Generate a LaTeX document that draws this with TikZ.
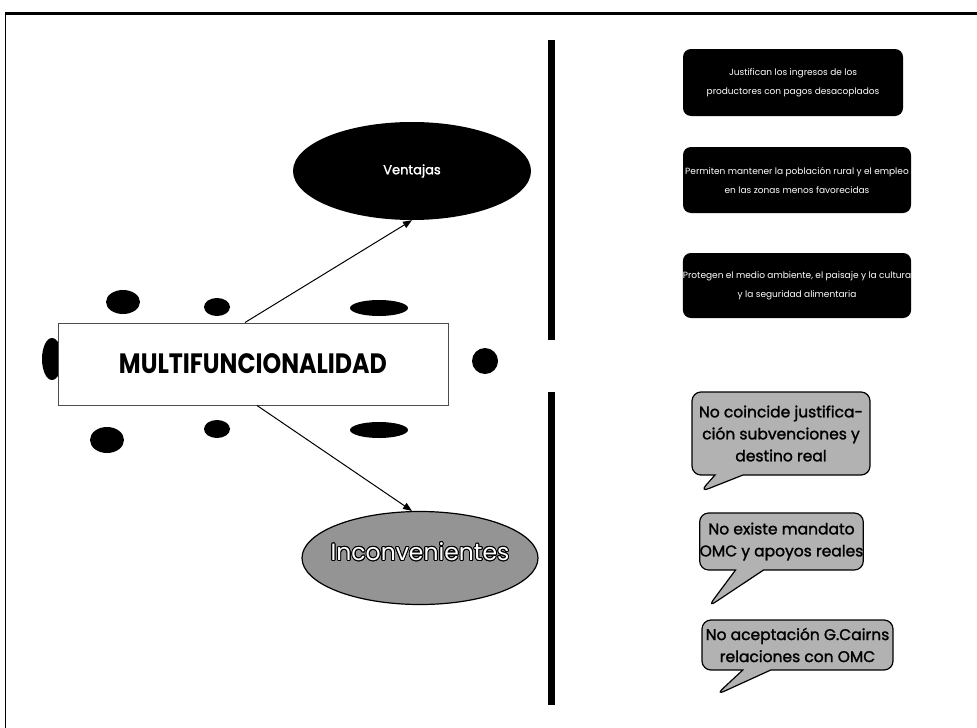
\documentclass[tikz,border=0pt]{standalone}
\usepackage{fontspec}
\setmainfont{Poppins}
\newfontfamily\bubblefont{Poppins}[FakeBold=1.6]
\usepackage{contour}
\contourlength{0.9pt}
\usetikzlibrary{arrows.meta,shapes.geometric,shapes.callouts}

\begin{document}
\begin{tikzpicture}[x=1pt,y=-1pt]
    \tikzset{
      spot/.style={ellipse, fill=black, inner sep=0pt},
      conn/.style={line width=1pt, -{Triangle[length=9pt,width=7pt]}},
      darkbox/.style={rectangle, rounded corners=8pt, fill=black, text=white, inner sep=0pt, align=center, font=\fontsize{9}{19}\selectfont},
      bubble/.style={rectangle callout, rounded corners=9pt, draw, line width=1.2pt, fill=black!30, inner sep=0pt, align=center, callout pointer width=28pt, font=\bubblefont\fontsize{15.5}{22}\selectfont}
    }
    \useasboundingbox (0,0) rectangle (977,728);
    % frame and separators
    \draw [line width=3pt] (5,13) -- (977,13);
    \draw [line width=1pt] (5,13) -- (5,728);
    \fill [black] (548,40) rectangle (555,340);
    \fill [black] (548,392) rectangle (555,705);
    % spots round the main box
    \node [spot, minimum width=34, minimum height=24] (s1) at (123,302) {};
    \node [spot, minimum width=26, minimum height=18] (s2) at (217,307) {};
    \node [spot, minimum width=58, minimum height=16] (s3) at (379,308) {};
    \node [spot, minimum width=20, minimum height=42] (s4) at (52,359) {};
    \node [spot, minimum width=26, minimum height=26] (s5) at (485,361) {};
    \node [spot, minimum width=34, minimum height=26] (s6) at (107,440) {};
    \node [spot, minimum width=26, minimum height=18] (s7) at (217,429) {};
    \node [spot, minimum width=58, minimum height=16] (s8) at (379,430) {};
    % main box
    \node [draw=black!70, line width=1pt, fill=white, minimum width=390, minimum height=82, font=\bfseries\fontsize{25}{25}\selectfont] (mf) at (253,364) {\scalebox{0.95}[1.12]{MULTIFUNCIONALIDAD}};
    % ellipses
    \node [ellipse, fill=black, minimum width=238, minimum height=98, text=white, font=\bubblefont\fontsize{13}{13}\selectfont] (vent) at (412,171) {Ventajas};
    \node [ellipse, draw, line width=1.2pt, fill=black!42, minimum width=236, minimum height=93] (inc) at (420,558) {};
    \node [font=\fontsize{23.5}{23.5}\selectfont] (inctext) at ([yshift=6pt]inc.center) {\contour{black}{\textcolor{white}{Inconvenientes}}};
    \draw [conn] ([xshift=-8pt]mf.north) -- (vent.south);
    \draw [conn] ([xshift=4pt]mf.south) -- ([xshift=-8pt]inc.north);
    % right column, upper half
    \node [darkbox, minimum width=220, minimum height=67] (b1) at (793,82.5) {Justifican los ingresos de los\\productores con pagos desacoplados};
    \node [darkbox, minimum width=228, minimum height=66] (b2) at (797,180) {Permiten mantener la población rural y el empleo\\en las zonas menos favorecidas};
    \node [darkbox, minimum width=228, minimum height=65] (b3) at (797,285.5) {Protegen el medio ambiente, el paisaje y la cultura\\y la seguridad alimentaria};
    % right column, lower half
    \node [bubble, minimum width=178, minimum height=83, callout absolute pointer={(700,492)}] (q1) at (781,433.5) {No coincide justifica-\\ción subvenciones y\\destino real};
    \node [bubble, minimum width=163, minimum height=57, callout absolute pointer={(708,607)}] (q2) at (781.5,541.5) {No existe mandato\\OMC y apoyos reales};
    \node [bubble, minimum width=191, minimum height=50, callout absolute pointer={(716,695)}] (q3) at (797.5,645) {No aceptación G.Cairns\\relaciones con OMC};
\end{tikzpicture}
\end{document}
